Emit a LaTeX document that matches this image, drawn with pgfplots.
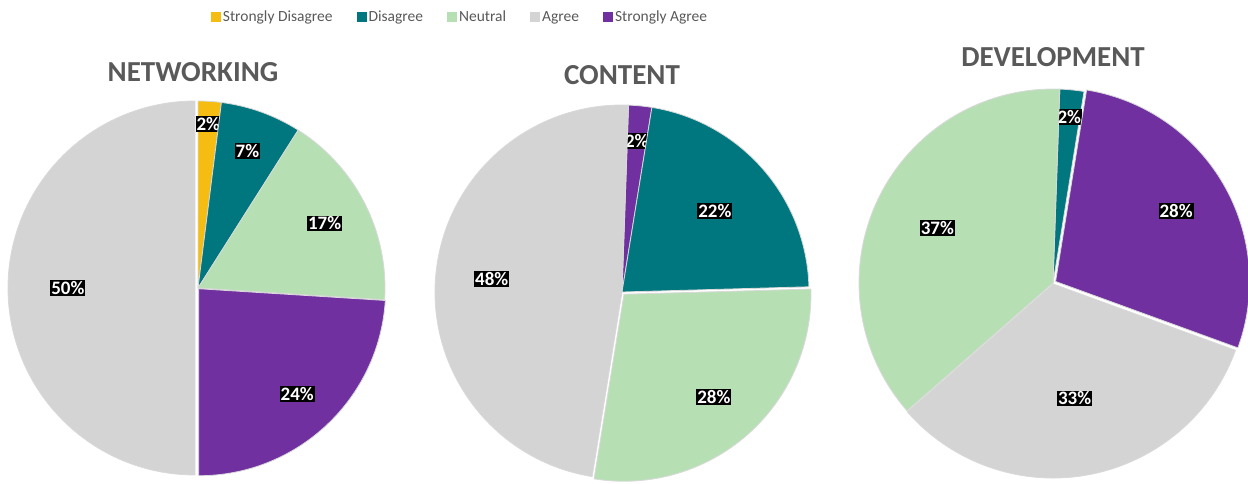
\documentclass[border=0pt]{standalone}
\usepackage{fontspec}
\setmainfont{Carlito}
\usepackage{pgfplots}
\usepackage{pgfplotstable}
\pgfplotsset{compat=1.18}

\definecolor{cSD}{HTML}{F5BD12}
\definecolor{cD}{HTML}{00767E}
\definecolor{cN}{HTML}{B6E0B4}
\definecolor{cA}{HTML}{D4D4D4}
\definecolor{cSA}{HTML}{7030A0}
\definecolor{ctxt}{HTML}{595959}

% slices in clockwise order from the start angle
% val = percent, col = colour, ex = explode (px), lr = label radius fraction
\pgfplotstableread{
val col ex lr
2  cSD 0 0.88
7  cD  0 0.78
17 cN  0 0.76
24 cSA 1 0.77
50 cA  3 0.68
}\networking

\pgfplotstableread{
val col ex lr
2  cSA 0 0.81
22 cD  0 0.66
28 cN  3 0.73
48 cA  0 0.70
}\content

\pgfplotstableread{
val col ex lr
2  cD  0 0.86
28 cSA 3 0.72
33 cA  1 0.60
37 cN  0 0.66
}\development

% #1 table, #2 cx, #3 cy (pixels from top), #4 radius, #5 start angle
\newcommand\drawpie[5]{%
  \pgfplotstablegetrowsof{#1}%
  \pgfmathtruncatemacro\nrows{\pgfplotsretval-1}%
  \xdef\curang{#5}%
  \foreach \i in {0,...,\nrows}{%
    \pgfplotstablegetelem{\i}{val}\of{#1}\let\val\pgfplotsretval
    \pgfplotstablegetelem{\i}{col}\of{#1}\let\col\pgfplotsretval
    \pgfplotstablegetelem{\i}{ex}\of{#1}\let\ex\pgfplotsretval
    \pgfplotstablegetelem{\i}{lr}\of{#1}\let\lr\pgfplotsretval
    \pgfmathsetmacro\aend{\curang-3.6*\val}%
    \pgfmathsetmacro\amid{(\curang+\aend)/2}%
    \pgfmathsetmacro\ox{#2+\ex*cos(\amid)}%
    \pgfmathsetmacro\oy{483-#3+\ex*sin(\amid)}%
    \pgfmathsetmacro\sx{\ox+#4*cos(\curang)}%
    \pgfmathsetmacro\sy{\oy+#4*sin(\curang)}%
    \pgfmathsetmacro\lx{\ox+\lr*#4*cos(\amid)}%
    \pgfmathsetmacro\ly{\oy+\lr*#4*sin(\amid)}%
    \fill[fill=\col, draw=black!15, line width=0.8pt, line join=round]
      (axis cs:\ox,\oy) -- (axis cs:\sx,\sy)
      arc[start angle=\curang, end angle=\aend, radius=#4pt] -- cycle;
    \node[fill=black, text=white, inner xsep=1pt, inner ysep=1.2pt,
          font=\fontsize{19}{20}\selectfont\bfseries]
      at (axis cs:\lx,\ly) {\val\%};
    \global\let\curang\aend
  }%
}

\begin{document}
\begin{tikzpicture}
\begin{axis}[
  x=1pt, y=1pt, scale only axis,
  xmin=0, xmax=1248, ymin=0, ymax=483,
  hide axis,
  clip=false,
  legend columns=5,
  legend style={draw=none, fill=none, at={(axis cs:460,466)}, anchor=center,
    font=\fontsize{15.5}{18}\selectfont, text=ctxt,
    /tikz/every even column/.append style={column sep=22pt},
    inner sep=0pt},
  legend image code/.code={\fill[#1] (0pt,-5pt) rectangle (10pt,5pt);},
]
\addlegendimage{fill=cSD, draw=none}\addlegendentry{Strongly Disagree}
\addlegendimage{fill=cD, draw=none}\addlegendentry{Disagree}
\addlegendimage{fill=cN, draw=none}\addlegendentry{Neutral}
\addlegendimage{fill=cA, draw=none}\addlegendentry{Agree}
\addlegendimage{fill=cSA, draw=none}\addlegendentry{Strongly Agree}

\pgfplotsextra{%
  \drawpie{\networking}{198}{288}{187}{90}%
  \drawpie{\content}{622}{292}{187}{88}%
  \drawpie{\development}{1053}{283}{194}{88}%
}

\node[font=\fontsize{29}{32}\selectfont\bfseries, text=ctxt] at (axis cs:193,411) {NETWORKING};
\node[font=\fontsize{29}{32}\selectfont\bfseries, text=ctxt] at (axis cs:622,408) {CONTENT};
\node[font=\fontsize{29}{32}\selectfont\bfseries, text=ctxt] at (axis cs:1053,426) {DEVELOPMENT};
\end{axis}
\pgfresetboundingbox
\path (0,0) rectangle (1248pt,483pt);
\end{tikzpicture}
\end{document}
